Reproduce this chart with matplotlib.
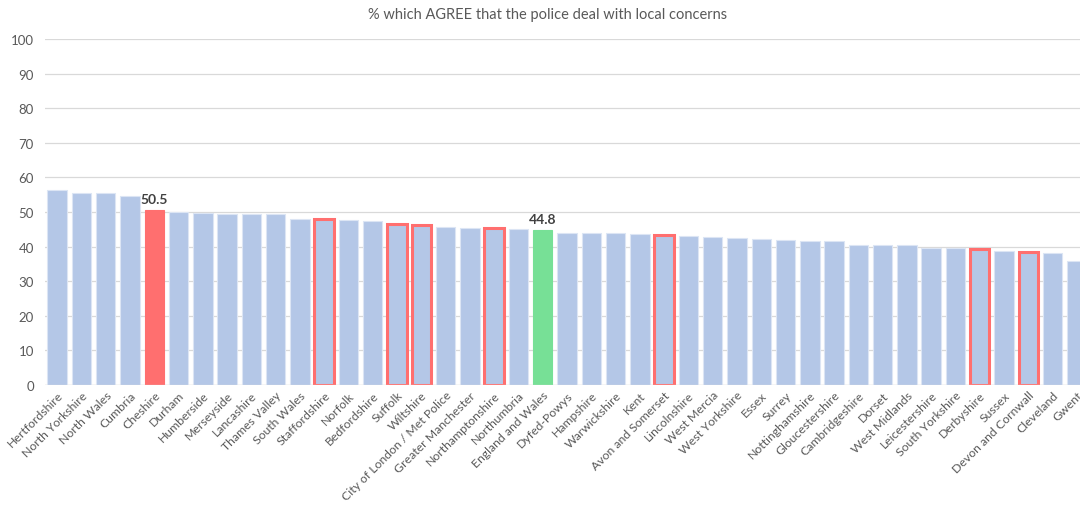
import matplotlib.pyplot as plt

# % which agree, by police force area
forces = ["Hertfordshire", "North Yorkshire", "North Wales", "Cumbria", "Cheshire",
          "Durham", "Humberside", "Merseyside", "Lancashire", "Thames Valley",
          "South Wales", "Staffordshire", "Norfolk", "Bedfordshire", "Suffolk",
          "Wiltshire", "City of London / Met Police", "Greater Manchester",
          "Northamptonshire", "Northumbria", "England and Wales", "Dyfed-Powys",
          "Hampshire", "Warwickshire", "Kent", "Avon and Somerset", "Lincolnshire",
          "West Mercia", "West Yorkshire", "Essex", "Surrey", "Nottinghamshire",
          "Gloucestershire", "Cambridgeshire", "Dorset", "West Midlands",
          "Leicestershire", "South Yorkshire", "Derbyshire", "Sussex",
          "Devon and Cornwall", "Cleveland", "Gwent"]
agree = [56.3, 55.6, 55.6, 54.7, 50.5,
         49.9, 49.6, 49.3, 49.3, 49.3,
         48.0, 47.9, 47.7, 47.4, 46.5,
         46.3, 45.7, 45.4, 45.5, 45.2, 44.8, 43.8,
         43.8, 43.8, 43.5, 43.3, 43.0,
         42.8, 42.5, 42.2, 42.0, 41.7,
         41.7, 40.5, 40.5, 40.5,
         39.5, 39.5, 39.2, 38.6,
         38.3, 38.1, 35.9]
highlight = "Cheshire"
average = "England and Wales"
outlined = ["Staffordshire", "Suffolk", "Wiltshire", "Northamptonshire",
            "Avon and Somerset", "Derbyshire", "Devon and Cornwall"]

plt.rcParams['font.family'] = ['Lato', 'DejaVu Sans']

fig = plt.figure(figsize=(10.8, 5.06), dpi=100)
# axes runs a little past the right edge, like the cropped original
ax = fig.add_axes([45 / 1080, 120 / 506, 1044 / 1080, 346 / 506])

blue = "#B4C7E7"
red = "#FF6F6F"
green = "#77E096"

colors = []
edges = []
widths = []
for f in forces:
    if f == highlight:
        colors.append(red); edges.append(red); widths.append(0.8)
    elif f == average:
        colors.append(green); edges.append(green); widths.append(0.8)
    elif f in outlined:
        colors.append(blue); edges.append(red); widths.append(2.2)
    else:
        colors.append(blue); edges.append("#DCE5F4"); widths.append(0.8)

x = list(range(len(forces)))
ax.bar(x, agree, width=0.8, color=colors, edgecolor=edges, linewidth=widths, zorder=3)

for f, v in zip(forces, agree):
    if f in (highlight, average):
        ax.text(forces.index(f), v + 1.5, f"{v:.1f}", ha="center", va="bottom",
                fontsize=10, fontweight="bold", color="#404040")

ax.set_xlim(-0.5, len(forces) - 0.5)
ax.set_ylim(0, 100)
ax.set_yticks(range(0, 101, 10))
ax.grid(axis="y", color="#D9D9D9", linewidth=0.9, zorder=0)
ax.set_xticks(x)
ax.set_xticklabels(forces, rotation=45, ha="right", rotation_mode="anchor")
ax.tick_params(axis="both", length=0, colors="#595959", labelsize=9.5)
ax.tick_params(axis="x", pad=3, labelsize=8.8)
ax.tick_params(axis="y", pad=8)
for s in ax.spines.values():
    s.set_visible(False)
ax.axhline(0, color="#D9D9D9", linewidth=0.9, zorder=4)

fig.text(548 / 1080, 1 - 15 / 506, "% which AGREE that the police deal with local concerns",
         ha="center", va="center", fontsize=10.5, color="#595959")

fig.savefig("out.png", dpi=100)
